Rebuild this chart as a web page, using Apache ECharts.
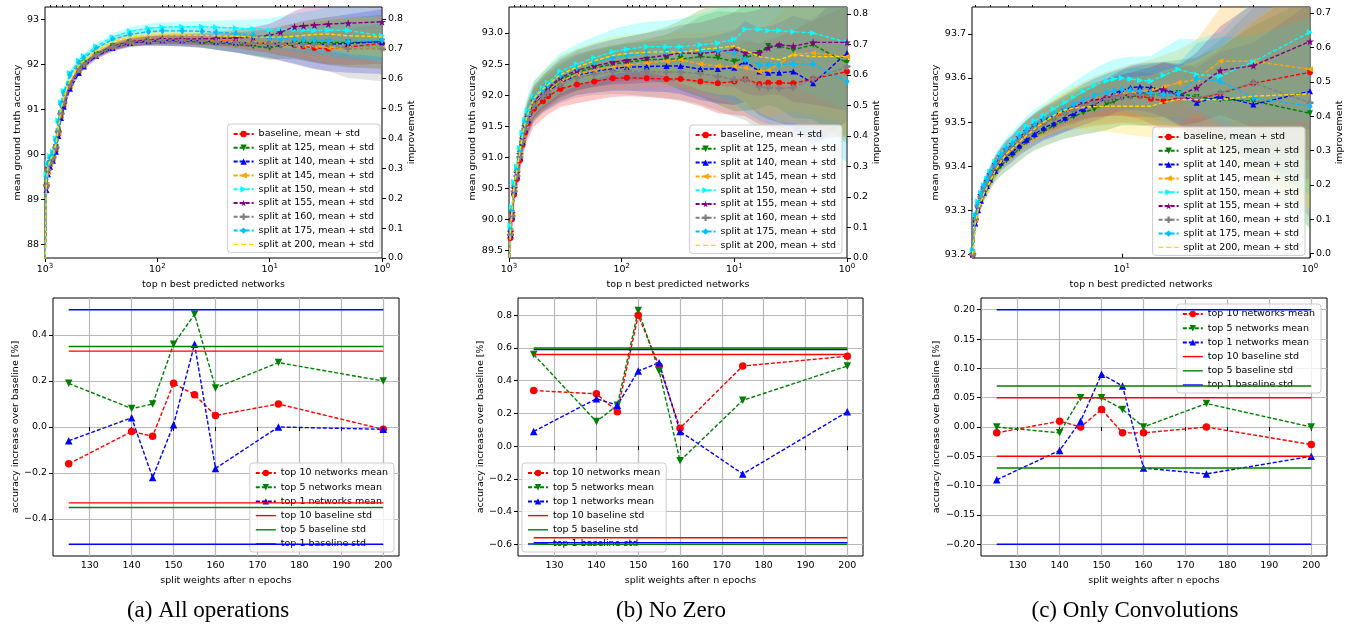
<!DOCTYPE html>
<html><head><meta charset="utf-8">
<script src="https://cdn.jsdelivr.net/npm/echarts@6/dist/echarts.min.js"></script>
<style>html,body{margin:0;padding:0;background:#fff}#c{width:1361px;height:629px}</style>
</head><body><div id="c"></div>
<script>
// ---------------- DATA ----------------
const TOP_NAMES = ['baseline, mean + std','split at 125, mean + std','split at 140, mean + std','split at 145, mean + std','split at 150, mean + std','split at 155, mean + std','split at 160, mean + std','split at 175, mean + std','split at 200, mean + std'];
const BOT_NAMES = ['top 10 networks mean','top 5 networks mean','top 1 networks mean','top 10 baseline std','top 5 baseline std','top 1 baseline std'];

// (a) All operations - top n best predicted networks
const XA = [1000, 970, 940, 900, 850, 800, 760, 720, 680, 600, 500, 450, 350, 250, 175, 120, 90, 60, 40, 30, 20, 14, 10, 8, 6, 5, 4, 3, 2, 1];
const A_base = [87.5, 89.3, 89.65, 89.8, 89.92, 90.15, 90.5, 90.9, 91.15, 91.55, 91.88, 92.0, 92.2, 92.38, 92.48, 92.52, 92.54, 92.54, 92.53, 92.53, 92.5, 92.47, 92.45, 92.43, 92.42, 92.4, 92.36, 92.34, 92.38, 92.46];
const A_s125 = [87.5, 89.3, 89.65, 89.8, 89.92, 90.15, 90.5, 90.9, 91.15, 91.55, 91.9, 92.02, 92.22, 92.4, 92.49, 92.52, 92.52, 92.51, 92.49, 92.47, 92.44, 92.4, 92.36, 92.42, 92.46, 92.48, 92.48, 92.48, 92.48, 92.5];
const A_s140 = [87.5, 89.2, 89.55, 89.72, 89.85, 90.05, 90.4, 90.8, 91.05, 91.45, 91.8, 91.95, 92.18, 92.36, 92.47, 92.51, 92.53, 92.53, 92.52, 92.5, 92.48, 92.47, 92.46, 92.46, 92.46, 92.46, 92.45, 92.44, 92.46, 92.5];
const A_s145 = [87.5, 89.3, 89.6, 89.78, 89.9, 90.1, 90.45, 90.85, 91.1, 91.5, 91.85, 91.98, 92.2, 92.38, 92.5, 92.54, 92.55, 92.55, 92.54, 92.52, 92.5, 92.48, 92.46, 92.45, 92.44, 92.42, 92.4, 92.37, 92.35, 92.34];
const A_s150 = [87.6, 89.55, 89.8, 89.95, 90.05, 90.35, 90.75, 91.15, 91.4, 91.8, 92.08, 92.18, 92.4, 92.6, 92.73, 92.8, 92.82, 92.83, 92.83, 92.82, 92.8, 92.78, 92.76, 92.77, 92.77, 92.76, 92.75, 92.76, 92.75, 92.63];
const A_s155 = [87.5, 89.3, 89.65, 89.8, 89.92, 90.12, 90.48, 90.88, 91.12, 91.52, 91.86, 91.99, 92.2, 92.39, 92.5, 92.54, 92.56, 92.56, 92.56, 92.57, 92.58, 92.6, 92.64, 92.71, 92.83, 92.85, 92.87, 92.89, 92.91, 92.94];
const A_s160 = [87.5, 89.3, 89.65, 89.8, 89.92, 90.15, 90.5, 90.9, 91.15, 91.55, 91.88, 92.0, 92.2, 92.38, 92.48, 92.52, 92.53, 92.53, 92.52, 92.5, 92.48, 92.46, 92.45, 92.45, 92.45, 92.44, 92.44, 92.44, 92.34, 92.34];
const A_s175 = [87.6, 89.5, 89.78, 89.92, 90.02, 90.3, 90.7, 91.1, 91.35, 91.75, 92.03, 92.13, 92.35, 92.55, 92.66, 92.72, 92.74, 92.74, 92.73, 92.71, 92.68, 92.64, 92.6, 92.57, 92.55, 92.54, 92.54, 92.52, 92.5, 92.53];
const A_s200 = [87.5, 89.45, 89.72, 89.88, 89.98, 90.22, 90.6, 91.0, 91.25, 91.65, 91.97, 92.08, 92.3, 92.5, 92.6, 92.64, 92.65, 92.65, 92.64, 92.63, 92.62, 92.6, 92.6, 92.6, 92.62, 92.64, 92.66, 92.67, 92.63, 92.61];
const A_sdLow  = [0.05, 0.08, 0.08, 0.07, 0.07, 0.07, 0.07, 0.07, 0.07, 0.06, 0.06, 0.06, 0.06, 0.07, 0.08, 0.09, 0.1, 0.1, 0.11, 0.12, 0.14, 0.17, 0.2, 0.24, 0.28, 0.3, 0.32, 0.35, 0.4, 0.45];
const A_sdMid  = [0.05, 0.09, 0.09, 0.08, 0.08, 0.08, 0.08, 0.08, 0.07, 0.07, 0.06, 0.06, 0.07, 0.08, 0.09, 0.1, 0.11, 0.12, 0.13, 0.15, 0.18, 0.22, 0.26, 0.3, 0.35, 0.4, 0.45, 0.5, 0.55, 0.6];
const A_sdHigh = [0.06, 0.1, 0.1, 0.09, 0.09, 0.09, 0.09, 0.08, 0.08, 0.07, 0.07, 0.07, 0.07, 0.08, 0.09, 0.1, 0.12, 0.13, 0.15, 0.18, 0.22, 0.27, 0.32, 0.38, 0.45, 0.5, 0.55, 0.6, 0.65, 0.72];

// (b) No Zero
const XB = XA;
const B_base = [89.0, 89.7, 90.0, 90.4, 90.65, 90.95, 91.2, 91.4, 91.55, 91.78, 91.9, 91.98, 92.1, 92.17, 92.22, 92.27, 92.28, 92.27, 92.26, 92.26, 92.22, 92.19, 92.22, 92.26, 92.18, 92.2, 92.2, 92.19, 92.26, 92.38];
const B_s125 = [89.0, 89.8, 90.1, 90.5, 90.75, 91.05, 91.3, 91.5, 91.65, 91.88, 92.03, 92.1, 92.25, 92.37, 92.44, 92.5, 92.53, 92.57, 92.58, 92.58, 92.62, 92.6, 92.54, 92.6, 92.68, 92.79, 92.79, 92.73, 92.81, 92.52];
const B_s140 = [89.0, 89.75, 90.05, 90.45, 90.7, 91.0, 91.25, 91.45, 91.6, 91.85, 92.0, 92.06, 92.2, 92.32, 92.38, 92.43, 92.45, 92.46, 92.47, 92.47, 92.42, 92.42, 92.44, 92.54, 92.38, 92.36, 92.36, 92.38, 92.19, 92.68];
const B_s145 = [89.0, 89.8, 90.1, 90.5, 90.75, 91.05, 91.3, 91.5, 91.65, 91.88, 92.02, 92.08, 92.22, 92.33, 92.4, 92.45, 92.48, 92.52, 92.55, 92.57, 92.5, 92.47, 92.46, 92.44, 92.38, 92.4, 92.5, 92.65, 92.68, 92.62];
const B_s150 = [89.0, 89.9, 90.2, 90.6, 90.85, 91.15, 91.4, 91.6, 91.75, 91.98, 92.12, 92.2, 92.38, 92.5, 92.6, 92.7, 92.74, 92.78, 92.78, 92.78, 92.81, 92.84, 92.9, 93.06, 93.06, 93.04, 93.04, 93.02, 93.0, 92.85];
const B_s155 = [89.0, 89.8, 90.1, 90.5, 90.75, 91.05, 91.3, 91.5, 91.65, 91.9, 92.05, 92.12, 92.28, 92.4, 92.47, 92.53, 92.56, 92.6, 92.64, 92.68, 92.67, 92.7, 92.73, 92.68, 92.68, 92.76, 92.81, 92.79, 92.85, 92.85];
const B_s160 = [89.0, 89.75, 90.05, 90.45, 90.7, 91.0, 91.25, 91.45, 91.6, 91.83, 91.98, 92.04, 92.17, 92.28, 92.34, 92.38, 92.39, 92.38, 92.37, 92.37, 92.35, 92.3, 92.25, 92.25, 92.13, 92.12, 92.11, 92.12, 92.26, 92.46];
const B_s175 = [89.0, 89.85, 90.15, 90.55, 90.8, 91.1, 91.35, 91.55, 91.7, 91.95, 92.08, 92.16, 92.32, 92.44, 92.53, 92.6, 92.64, 92.68, 92.7, 92.7, 92.72, 92.72, 92.68, 92.57, 92.49, 92.49, 92.49, 92.5, 92.5, 92.22];
const B_s200 = [89.0, 89.85, 90.15, 90.55, 90.8, 91.1, 91.35, 91.55, 91.7, 91.95, 92.1, 92.17, 92.33, 92.45, 92.55, 92.64, 92.67, 92.69, 92.7, 92.69, 92.73, 92.76, 92.79, 92.72, 92.62, 92.6, 92.57, 92.65, 92.62, 92.62];
const B_sdRed  = [0.1, 0.15, 0.18, 0.2, 0.22, 0.24, 0.25, 0.26, 0.27, 0.28, 0.28, 0.29, 0.29, 0.3, 0.3, 0.3, 0.3, 0.3, 0.32, 0.35, 0.4, 0.48, 0.54, 0.6, 0.65, 0.7, 0.75, 0.85, 0.95, 1.05];
const B_sdMid  = [0.1, 0.12, 0.14, 0.16, 0.18, 0.2, 0.22, 0.24, 0.25, 0.26, 0.27, 0.28, 0.3, 0.32, 0.34, 0.36, 0.38, 0.4, 0.42, 0.45, 0.5, 0.55, 0.6, 0.65, 0.7, 0.75, 0.8, 0.9, 1.0, 1.1];
const B_sdHigh = [0.1, 0.12, 0.14, 0.16, 0.18, 0.2, 0.22, 0.24, 0.25, 0.27, 0.28, 0.29, 0.3, 0.3, 0.3, 0.3, 0.3, 0.32, 0.4, 0.5, 0.65, 0.75, 0.8, 0.85, 0.9, 0.95, 1.0, 1.1, 1.2, 1.3];

// (c) Only Convolutions
const XC = [62, 60, 58, 56, 54, 52, 50, 47, 44, 41, 38, 35, 32, 29, 26, 23, 20, 18, 16, 14, 12, 11, 10, 9, 8, 7, 6, 5, 4, 3, 2, 1];
const C_base = [93.2, 93.28, 93.31, 93.33, 93.348, 93.362, 93.377, 93.4, 93.417, 93.432, 93.443, 93.46, 93.476, 93.488, 93.5, 93.51, 93.523, 93.53, 93.54, 93.548, 93.556, 93.56, 93.563, 93.562, 93.56, 93.553, 93.548, 93.555, 93.552, 93.565, 93.588, 93.613];
const C_s125 = [93.2, 93.27, 93.3, 93.32, 93.337, 93.35, 93.365, 93.385, 93.4, 93.413, 93.425, 93.44, 93.455, 93.468, 93.48, 93.492, 93.505, 93.513, 93.522, 93.53, 93.54, 93.547, 93.555, 93.558, 93.56, 93.563, 93.565, 93.566, 93.557, 93.551, 93.548, 93.52];
const C_s140 = [93.2, 93.27, 93.3, 93.322, 93.34, 93.355, 93.37, 93.39, 93.408, 93.42, 93.432, 93.447, 93.46, 93.473, 93.487, 93.497, 93.51, 93.52, 93.53, 93.54, 93.555, 93.565, 93.572, 93.578, 93.58, 93.578, 93.574, 93.565, 93.544, 93.559, 93.54, 93.57];
const C_s145 = [93.2, 93.28, 93.31, 93.33, 93.35, 93.364, 93.38, 93.402, 93.42, 93.435, 93.446, 93.462, 93.477, 93.49, 93.502, 93.513, 93.525, 93.533, 93.542, 93.55, 93.556, 93.56, 93.563, 93.566, 93.568, 93.572, 93.58, 93.589, 93.597, 93.638, 93.638, 93.62];
const C_s150 = [93.21, 93.29, 93.32, 93.34, 93.357, 93.372, 93.388, 93.41, 93.428, 93.445, 93.458, 93.475, 93.49, 93.503, 93.515, 93.53, 93.545, 93.557, 93.57, 93.583, 93.594, 93.598, 93.6, 93.598, 93.595, 93.593, 93.606, 93.62, 93.608, 93.604, 93.637, 93.704];
const C_s155 = [93.2, 93.28, 93.31, 93.335, 93.352, 93.367, 93.382, 93.405, 93.422, 93.438, 93.45, 93.466, 93.48, 93.493, 93.505, 93.515, 93.528, 93.535, 93.543, 93.55, 93.556, 93.558, 93.56, 93.562, 93.565, 93.568, 93.574, 93.56, 93.578, 93.617, 93.628, 93.683];
const C_s160 = [93.2, 93.28, 93.31, 93.33, 93.348, 93.362, 93.377, 93.4, 93.416, 93.43, 93.442, 93.458, 93.473, 93.486, 93.498, 93.508, 93.52, 93.528, 93.537, 93.545, 93.552, 93.556, 93.56, 93.562, 93.562, 93.56, 93.56, 93.557, 93.555, 93.566, 93.589, 93.544];
const C_s175 = [93.21, 93.29, 93.315, 93.337, 93.355, 93.37, 93.385, 93.407, 93.425, 93.44, 93.452, 93.468, 93.482, 93.495, 93.507, 93.518, 93.53, 93.54, 93.55, 93.56, 93.568, 93.571, 93.574, 93.572, 93.57, 93.566, 93.562, 93.565, 93.599, 93.593, 93.555, 93.536];
const C_s200 = [93.2, 93.27, 93.3, 93.32, 93.338, 93.352, 93.366, 93.39, 93.41, 93.428, 93.44, 93.455, 93.47, 93.485, 93.5, 93.515, 93.528, 93.532, 93.534, 93.535, 93.536, 93.536, 93.536, 93.536, 93.536, 93.536, 93.545, 93.551, 93.551, 93.551, 93.559, 93.564];
const C_sdA = [0.01, 0.012, 0.013, 0.014, 0.015, 0.016, 0.017, 0.018, 0.019, 0.02, 0.021, 0.022, 0.024, 0.026, 0.028, 0.03, 0.032, 0.034, 0.036, 0.038, 0.042, 0.044, 0.046, 0.05, 0.053, 0.057, 0.062, 0.068, 0.08, 0.1, 0.14, 0.2];
const C_sdB = [0.012, 0.014, 0.015, 0.016, 0.017, 0.018, 0.019, 0.02, 0.022, 0.024, 0.026, 0.028, 0.03, 0.032, 0.035, 0.038, 0.042, 0.046, 0.05, 0.054, 0.058, 0.06, 0.062, 0.065, 0.068, 0.07, 0.072, 0.075, 0.09, 0.12, 0.17, 0.26];

// bottom row: accuracy increase over baseline
const X_SPLIT = [125, 140, 145, 150, 155, 160, 175, 200];
const A_top10 = [-0.16, -0.02, -0.04, 0.19, 0.14, 0.05, 0.10, -0.01];
const A_top5  = [0.19, 0.08, 0.10, 0.36, 0.49, 0.17, 0.28, 0.20];
const A_top1  = [-0.06, 0.04, -0.22, 0.01, 0.36, -0.18, 0.00, -0.01];
const A_std = [0.33, 0.35, 0.51];
const B_top10 = [0.34, 0.32, 0.21, 0.80, 0.49, 0.11, 0.49, 0.55];
const B_top5  = [0.56, 0.15, 0.25, 0.83, 0.46, -0.09, 0.28, 0.49];
const B_top1  = [0.09, 0.29, 0.25, 0.46, 0.51, 0.09, -0.17, 0.21];
const B_std = [0.56, 0.60, 0.59];
const C_top10 = [-0.01, 0.01, 0.00, 0.03, -0.01, -0.01, 0.00, -0.03];
const C_top5  = [0.00, -0.01, 0.05, 0.05, 0.03, 0.00, 0.04, 0.00];
const C_top1  = [-0.09, -0.04, 0.01, 0.09, 0.07, -0.07, -0.08, -0.05];
const C_std = [0.05, 0.07, 0.20];

// tick values
const LOG_MAJOR_AB = [1, 10, 100, 1000];
const LOG_MINOR_AB = [2,3,4,5,6,7,8,9,20,30,40,50,60,70,80,90,200,300,400,500,600,700,800,900];
const LOG_MAJOR_C = [1, 10];
const LOG_MINOR_C = [2,3,4,5,6,7,8,9,20,30,40,50,60];
const YT_A = [88, 89, 90, 91, 92, 93];
const YT_B = [89.5, 90.0, 90.5, 91.0, 91.5, 92.0, 92.5, 93.0];
const YT_C = [93.2, 93.3, 93.4, 93.5, 93.6, 93.7];
const IMP_AB = [0, 0.1, 0.2, 0.3, 0.4, 0.5, 0.6, 0.7, 0.8];
const IMP_C = [0, 0.1, 0.2, 0.3, 0.4, 0.5, 0.6, 0.7];
const XT_SPLIT = [130, 140, 150, 160, 170, 180, 190, 200];
const YT_BA = [-0.4, -0.2, 0, 0.2, 0.4];
const YT_BB = [-0.6, -0.4, -0.2, 0, 0.2, 0.4, 0.6, 0.8];
const YT_BC = [-0.2, -0.15, -0.1, -0.05, 0, 0.05, 0.1, 0.15, 0.2];

// ---------------- STYLE ----------------
const FONT = 'DejaVu Sans';
const TXT = {fontFamily: FONT, fontSize: 9.5, color: '#000'};
const STAR = 'path://M50,0 L61,35 L98,35 L68,57 L79,91 L50,70 L21,91 L32,57 L2,35 L39,35 Z';
const PLUS = 'path://M33,0 H67 V33 H100 V67 H67 V100 H33 V67 H0 V33 H33 Z';
const ICON_SOLID = 'path://M0,0 M0,3.3 L20,3.3 L20,4.7 L0,4.7 Z M20,8';
const ICON_DASH = 'path://M0,0 M0,3.3 L4.5,3.3 L4.5,4.7 L0,4.7 Z M7.5,3.3 L12.5,3.3 L12.5,4.7 L7.5,4.7 Z M15.5,3.3 L20,3.3 L20,4.7 L15.5,4.7 Z M20,8';
const STY = [
  {c:'#ff0000', sym:'circle', rot:0, sz:6},
  {c:'#008000', sym:'triangle', rot:180, sz:6},
  {c:'#0000ff', sym:'triangle', rot:0, sz:6},
  {c:'#ffa500', sym:'triangle', rot:90, sz:6},
  {c:'#00ffff', sym:'triangle', rot:-90, sz:6},
  {c:'#800080', sym:STAR, rot:0, sz:8},
  {c:'#808080', sym:PLUS, rot:0, sz:7},
  {c:'#00bfff', sym:'diamond', rot:0, sz:[5,8]},
  {c:'#ffd700', sym:'none', rot:0, sz:0}
];
const BSTY = [
  {c:'#ff0000', sym:'circle', rot:0},
  {c:'#008000', sym:'triangle', rot:180},
  {c:'#0000ff', sym:'triangle', rot:0}
];

function fmt(v, d) { const s = (Math.abs(v) < 1e-9 ? 0 : v).toFixed(d); return s.replace('-', '\u2212'); }

function bandSeries(gi, xs, mean, sd, color) {
  return {
    type: 'custom', xAxisIndex: gi, yAxisIndex: gi, clip: true, silent: true, z: 1,
    data: [[xs[0], mean[0]]],
    renderItem: function (params, api) {
      const up = [], lo = [];
      for (let i = 0; i < xs.length; i++) {
        up.push(api.coord([xs[i], mean[i] + sd[i]]));
        lo.push(api.coord([xs[i], mean[i] - sd[i]]));
      }
      return {type: 'polygon', shape: {points: up.concat(lo.reverse())}, style: {fill: color, opacity: 0.22}};
    }
  };
}

function topPanel(gi, xs, means, sds) {
  const out = [];
  for (let k = 0; k < 9; k++) out.push(bandSeries(gi, xs, means[k], sds[k], STY[k].c));
  for (let k = 0; k < 9; k++) {
    const st = STY[k];
    out.push({
      type: 'line', name: TOP_NAMES[k], xAxisIndex: gi, yAxisIndex: gi, z: 3 + k * 0.01,
      data: xs.map((x, i) => [x, means[k][i]]),
      symbol: st.sym, symbolSize: st.sz, symbolRotate: st.rot, showSymbol: st.sym !== 'none',
      lineStyle: {color: st.c, width: 1.4, type: [4, 2]}, itemStyle: {color: st.c},
      emphasis: {disabled: true}
    });
  }
  return out;
}

function bottomPanel(gi, t10, t5, t1, std) {
  const out = [];
  [t10, t5, t1].forEach((m, k) => {
    const st = BSTY[k];
    out.push({
      type: 'line', name: BOT_NAMES[k], xAxisIndex: gi, yAxisIndex: gi, z: 3,
      data: X_SPLIT.map((x, i) => [x, m[i]]),
      symbol: st.sym, symbolSize: 7.5, symbolRotate: st.rot,
      lineStyle: {color: st.c, width: 1.4, type: [4, 2]}, itemStyle: {color: st.c},
      emphasis: {disabled: true}
    });
  });
  std.forEach((s, k) => {
    [s, -s].forEach(v => out.push({
      type: 'line', name: BOT_NAMES[3 + k], xAxisIndex: gi, yAxisIndex: gi, z: 4,
      data: [[X_SPLIT[0], v], [X_SPLIT[X_SPLIT.length - 1], v]],
      symbol: 'none', lineStyle: {color: BSTY[k].c, width: 1.4}, itemStyle: {color: BSTY[k].c},
      emphasis: {disabled: true}
    }));
  });
  return out;
}

// ---------------- AXES ----------------
const tickStyle = {lineStyle: {color: '#000', width: 1}};
function logX(gi, min, max, major) {
  return {
    type: 'log', logBase: 10, gridIndex: gi, min: min, max: max, inverse: true,
    name: 'top n best predicted networks', nameLocation: 'middle', nameGap: 22, nameTextStyle: TXT,
    axisLine: {show: false},
    axisTick: Object.assign({show: true, length: 4, customValues: major}, tickStyle),
    axisLabel: Object.assign({customValues: major, margin: 5, formatter: v => '10{s|' + Math.round(Math.log10(v)) + '}',
      rich: {s: {fontFamily: FONT, fontSize: 7, color: '#000', padding: [0, 0, 7, 0]}}}, TXT),
    splitLine: {show: false}
  };
}
function minorX(gi, min, max, minor) {
  return {
    type: 'log', logBase: 10, gridIndex: gi, min: min, max: max, inverse: true,
    axisLine: {show: false}, axisLabel: {show: false},
    axisTick: Object.assign({show: true, length: 2, customValues: minor}, tickStyle),
    splitLine: {show: false}
  };
}
function splitX(gi) {
  return {
    type: 'value', gridIndex: gi, min: 121.25, max: 203.75,
    name: 'split weights after n epochs', nameLocation: 'middle', nameGap: 20, nameTextStyle: TXT,
    axisLine: {show: false},
    axisTick: Object.assign({show: true, length: 4, customValues: XT_SPLIT}, tickStyle),
    axisLabel: Object.assign({customValues: XT_SPLIT, margin: 5, formatter: v => String(Math.round(v))}, TXT),
    splitLine: {show: true, lineStyle: {color: '#b8b8b8', width: 1.2}}
  };
}
function valY(gi, min, max, ticks, d, name, gap, pos, grid) {
  return {
    type: 'value', gridIndex: gi, min: min, max: max, position: pos,
    name: name, nameLocation: 'middle', nameGap: gap, nameRotate: 90, nameTextStyle: TXT,
    axisLine: {show: false},
    axisTick: Object.assign({show: true, length: 4, customValues: ticks}, tickStyle),
    axisLabel: Object.assign({customValues: ticks, margin: 6, formatter: v => fmt(v, d)}, TXT),
    splitLine: {show: grid, lineStyle: {color: '#b8b8b8', width: 1.2}}
  };
}

const grids = [
  {left: 45, top: 7, width: 337, height: 251},
  {left: 509, top: 7, width: 338, height: 251},
  {left: 972, top: 7, width: 338, height: 251},
  {left: 53, top: 298, width: 346, height: 258},
  {left: 518, top: 298, width: 345, height: 258},
  {left: 981, top: 298, width: 346, height: 258}
].map(g => Object.assign(g, {show: true, borderColor: '#000', borderWidth: 1, backgroundColor: 'transparent'}));

const xAxes = [
  logX(0, 1, 1000, LOG_MAJOR_AB), logX(1, 1, 1000, LOG_MAJOR_AB), logX(2, 1, 62.5, LOG_MAJOR_C),
  splitX(3), splitX(4), splitX(5),
  minorX(0, 1, 1000, LOG_MINOR_AB), minorX(1, 1, 1000, LOG_MINOR_AB), minorX(2, 1, 62.5, LOG_MINOR_C)
];
const yAxes = [
  valY(0, 87.69, 93.27, YT_A, 0, 'mean ground truth accuracy', 21, 'left', false),
  valY(1, 89.377, 93.419, YT_B, 1, 'mean ground truth accuracy', 30, 'left', false),
  valY(2, 93.192, 93.761, YT_C, 1, 'mean ground truth accuracy', 30, 'left', false),
  valY(3, -0.561, 0.561, YT_BA, 1, 'accuracy increase over baseline [%]', 30, 'left', true),
  valY(4, -0.672, 0.906, YT_BB, 1, 'accuracy increase over baseline [%]', 30, 'left', true),
  valY(5, -0.22, 0.22, YT_BC, 2, 'accuracy increase over baseline [%]', 37, 'left', true),
  valY(0, 0, 0.84, IMP_AB, 1, 'improvement', 25, 'right', false),
  valY(1, 0, 0.823, IMP_AB, 1, 'improvement', 25, 'right', false),
  valY(2, -0.0125, 0.7175, IMP_C, 1, 'improvement', 25, 'right', false)
];

// ---------------- SERIES ----------------
const series = [].concat(
  topPanel(0, XA, [A_base, A_s125, A_s140, A_s145, A_s150, A_s155, A_s160, A_s175, A_s200],
    [A_sdLow, A_sdMid, A_sdHigh, A_sdLow, A_sdMid, A_sdMid, A_sdHigh, A_sdLow, A_sdLow]),
  topPanel(1, XB, [B_base, B_s125, B_s140, B_s145, B_s150, B_s155, B_s160, B_s175, B_s200],
    [B_sdRed, B_sdHigh, B_sdMid, B_sdMid, B_sdMid, B_sdMid, B_sdMid, B_sdHigh, B_sdHigh]),
  topPanel(2, XC, [C_base, C_s125, C_s140, C_s145, C_s150, C_s155, C_s160, C_s175, C_s200],
    [C_sdA, C_sdB, C_sdA, C_sdB, C_sdA, C_sdA, C_sdB, C_sdA, C_sdB]),
  bottomPanel(3, A_top10, A_top5, A_top1, A_std),
  bottomPanel(4, B_top10, B_top5, B_top1, B_std),
  bottomPanel(5, C_top10, C_top5, C_top1, C_std)
);

const TOP_LEGEND = TOP_NAMES.map((n, k) => STY[k].sym === 'none' ? {name: n, icon: ICON_DASH} : {name: n});
const BOT_LEGEND = BOT_NAMES.map((n, k) => k >= 3 ? {name: n, icon: ICON_SOLID} : {name: n});

function legendCfg(names, pos, gap) {
  return Object.assign({
    data: names, orient: 'vertical', selectedMode: false,
    itemWidth: 20, itemHeight: 8, itemGap: gap,
    textStyle: {fontFamily: FONT, fontSize: 9.5, color: '#000', lineHeight: 10},
    backgroundColor: 'rgba(255,255,255,0.8)', borderColor: '#cccccc', borderWidth: 1, borderRadius: 3,
    padding: [5, 6, 3, 5]
  }, pos);
}

const option = {
  animation: false,
  backgroundColor: '#fff',
  grid: grids, xAxis: xAxes, yAxis: yAxes, series: series,
  legend: [
    legendCfg(TOP_LEGEND, {right: 981, top: 124}, 3.8),
    legendCfg(TOP_LEGEND, {right: 519, top: 125}, 3.8),
    legendCfg(TOP_LEGEND, {right: 56, top: 127}, 3.8),
    legendCfg(BOT_LEGEND, {right: 967, top: 463}, 4.2),
    legendCfg(BOT_LEGEND, {left: 522, top: 463}, 4.2),
    legendCfg(BOT_LEGEND, {right: 40, top: 304}, 4.2)
  ],
  graphic: [
    {type: 'text', x: 208, y: 611, style: {text: '(a) All operations', font: '23px "Liberation Serif"', fill: '#000', textAlign: 'center', textVerticalAlign: 'middle'}},
    {type: 'text', x: 671, y: 611, style: {text: '(b) No Zero', font: '23px "Liberation Serif"', fill: '#000', textAlign: 'center', textVerticalAlign: 'middle'}},
    {type: 'text', x: 1135, y: 611, style: {text: '(c) Only Convolutions', font: '23px "Liberation Serif"', fill: '#000', textAlign: 'center', textVerticalAlign: 'middle'}}
  ]
};

const chart = echarts.init(document.getElementById('c'), null, {renderer: 'canvas'});
chart.setOption(option);
</script>
</body></html>
